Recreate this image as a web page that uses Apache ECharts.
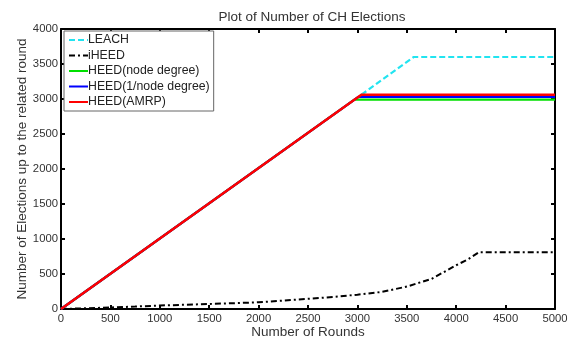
<!DOCTYPE html>
<html><head><meta charset="utf-8">
<script src="https://cdn.jsdelivr.net/npm/echarts@6/dist/echarts.min.js"></script>
<style>html,body{margin:0;padding:0;background:#fff}#c{width:573px;height:338px}</style>
</head><body><div id="c"></div>
<script>
var seriesNames = ['LEACH', 'iHEED', 'HEED(node degree)', 'HEED(1/node degree)', 'HEED(AMRP)'];
var leachX = [0, 3040, 3570, 5000];
var leachY = [0, 3060, 3600, 3600];
var iheedX = [0, 250, 500, 750, 1000, 1250, 1500, 1750, 2000, 2250, 2500, 2750, 3000, 3250, 3500, 3750, 4000, 4120, 4230, 5000];
var iheedY = [0, 10, 22, 35, 50, 60, 72, 83, 96, 120, 145, 172, 205, 245, 320, 430, 625, 710, 810, 810];
var nodeDegX = [0, 2970, 5000];
var nodeDegY = [0, 2990, 2990];
var invDegX = [0, 3010, 5000];
var invDegY = [0, 3030, 3030];
var amrpX = [0, 3040, 5000];
var amrpY = [0, 3060, 3060];
var xTicks = [0, 500, 1000, 1500, 2000, 2500, 3000, 3500, 4000, 4500, 5000];
var yTicks = [0, 500, 1000, 1500, 2000, 2500, 3000, 3500, 4000];

function pts(xs, ys) { return xs.map(function (x, i) { return [x, ys[i]]; }); }

var font = 'Liberation Sans';
var chart = echarts.init(document.getElementById('c'));
var axisCommon = {
  type: 'value',
  axisLine: { show: true, onZero: false, lineStyle: { color: '#000', width: 2 } },
  axisTick: { show: true, inside: true, length: 4, lineStyle: { color: '#000', width: 2 } },
  splitLine: { show: false }
};
chart.setOption({
  animation: false,
  title: { text: 'Plot of Number of CH Elections', left: 307, textAlign: 'center', top: 5,
    textStyle: { fontFamily: font, fontSize: 13.5, fontWeight: 'normal', color: '#333' } },
  grid: { left: 61, right: 18, top: 29, bottom: 29, containLabel: false, outerBoundsMode: 'none' },
  legend: {
    data: seriesNames, orient: 'vertical', left: 64, top: 31,
    itemWidth: 19, itemHeight: 10, itemGap: 3.5,
    padding: [3, 4, 3, 4],
    backgroundColor: '#fff', borderColor: '#666', borderWidth: 1,
    itemStyle: { opacity: 0 },
    textStyle: { fontFamily: font, fontSize: 12.3, color: '#222', padding: [0, 0, 0, -5] }
  },
  xAxis: [
    Object.assign({}, axisCommon, { min: 0, max: 5000, interval: 500, position: 'bottom',
      name: 'Number of Rounds', nameLocation: 'middle', nameGap: 16, nameMoveOverlap: false,
      nameTextStyle: { fontFamily: font, fontSize: 13.5, color: '#333' },
      axisLabel: { fontFamily: font, fontSize: 11.3, color: '#333', margin: 4,
        formatter: function (v) { return xTicks.indexOf(v) >= 0 ? String(v) : ''; } } }),
    Object.assign({}, axisCommon, { min: 0, max: 5000, interval: 500, position: 'top', axisLabel: { show: false } })
  ],
  yAxis: [
    Object.assign({}, axisCommon, { min: 0, max: 4000, interval: 500, position: 'left',
      name: 'Number of Elections up to the related round', nameLocation: 'middle', nameGap: 32, nameMoveOverlap: false,
      nameTextStyle: { fontFamily: font, fontSize: 13.5, color: '#333' },
      axisLabel: { fontFamily: font, fontSize: 11.3, color: '#333', margin: 3,
        formatter: function (v) { return yTicks.indexOf(v) >= 0 ? String(v) : ''; } } }),
    Object.assign({}, axisCommon, { min: 0, max: 4000, interval: 500, position: 'right', axisLabel: { show: false } })
  ],
  series: [
    { name: seriesNames[0], type: 'line', symbol: 'none', data: pts(leachX, leachY), itemStyle: { color: '#22e4f0' },
      lineStyle: { color: '#22e4f0', width: 2.2, type: [6, 3] }, z: 2 },
    { name: seriesNames[1], type: 'line', symbol: 'none', data: pts(iheedX, iheedY), itemStyle: { color: '#000' },
      lineStyle: { color: '#000', width: 2, type: [6, 3, 2, 3] }, z: 3 },
    { name: seriesNames[2], type: 'line', symbol: 'none', data: pts(nodeDegX, nodeDegY), itemStyle: { color: '#00e000' },
      lineStyle: { color: '#00e000', width: 2.2 }, z: 4 },
    { name: seriesNames[3], type: 'line', symbol: 'none', data: pts(invDegX, invDegY), itemStyle: { color: '#0000ff' },
      lineStyle: { color: '#0000ff', width: 2.2 }, z: 5 },
    { name: seriesNames[4], type: 'line', symbol: 'none', data: pts(amrpX, amrpY), itemStyle: { color: '#ff0000' },
      lineStyle: { color: '#ff0000', width: 2.5 }, z: 6 }
  ]
});
</script></body></html>
